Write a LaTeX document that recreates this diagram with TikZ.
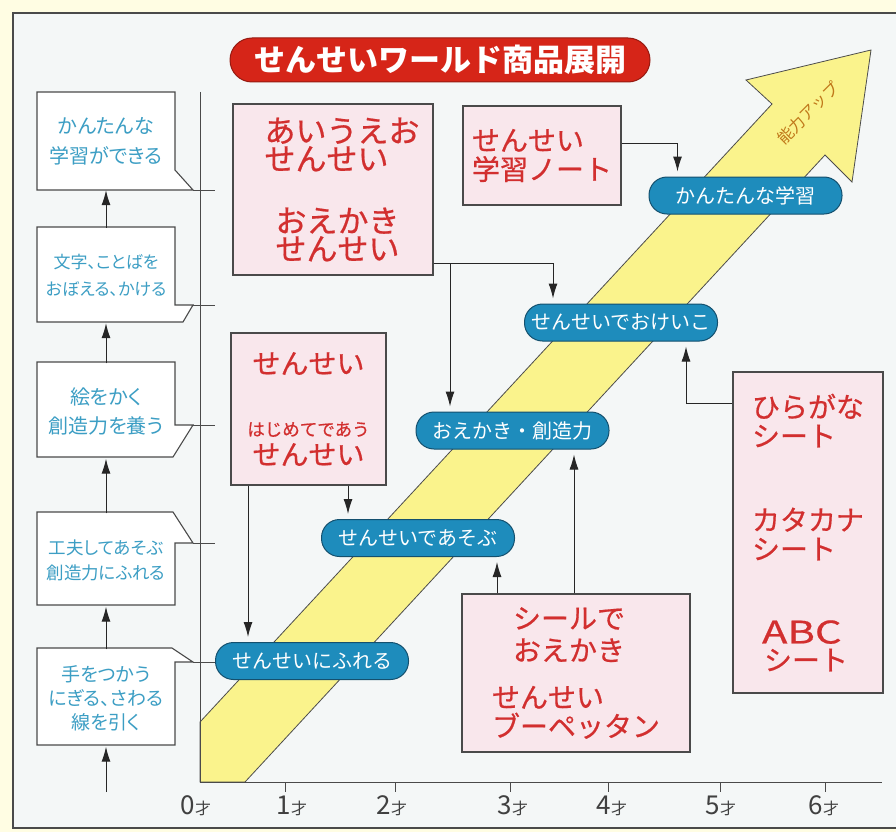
\documentclass[tikz,border=0pt]{standalone}
\usepackage{fontspec}
\setmainfont{Noto Sans CJK JP}
\newfontfamily\stagefont{Noto Sans CJK JP}[RawFeature=+palt]
\newfontfamily\prodfont{Noto Sans CJK JP}[FakeBold=0.6]
\usepackage{xcolor}
\usetikzlibrary{shapes,arrows.meta,positioning,calc}

\definecolor{bgyellow}{HTML}{FFFDE3}
\definecolor{panelfill}{HTML}{F4F7F7}
\definecolor{linegrey}{HTML}{4A4A4A}
\definecolor{stagetext}{HTML}{3C9EC4}
\definecolor{prodfill}{HTML}{F9E7EC}
\definecolor{prodtext}{HTML}{D22F2F}
\definecolor{pillfill}{HTML}{1E8CBC}
\definecolor{pilldraw}{HTML}{14506E}
\definecolor{bandyellow}{HTML}{FAF38C}
\definecolor{titlered}{HTML}{D62518}
\definecolor{labelbrown}{HTML}{C0781A}

\newcommand{\sai}{{\fontsize{16}{16}\selectfont 才}}

\begin{document}
\begin{tikzpicture}[x=1pt, y=-1pt,
    stage/.style={inner sep=0pt, minimum width=138pt, text=stagetext, align=center},
    stageline/.style={draw=linegrey, line width=1.1pt, fill=white},
    prod/.style={rectangle, draw=linegrey, line width=1.1pt, fill=prodfill, text=prodtext, inner sep=0pt, font=\prodfont\fontsize{28}{29}\selectfont},
    pill/.style={rectangle, rounded corners=18pt, draw=pilldraw, line width=1pt, fill=pillfill, text=white, minimum width=193pt, minimum height=37pt, inner sep=0pt, font=\fontsize{20}{20}\selectfont},
    titlepill/.style={rectangle, rounded corners=22pt, draw=titlered!70!black, line width=1pt, fill=titlered, text=white, minimum width=420pt, minimum height=44pt, inner sep=0pt, font=\fontsize{31}{31}\selectfont\bfseries},
    axis/.style={draw=linegrey, line width=1pt},
    band/.style={fill=bandyellow, draw=black!70, line width=0.8pt},
    conn/.style={-{Latex[length=15pt,width=9pt]}, line width=1pt, draw=black!85, shorten >=5pt},
    stageconn/.style={-{Latex[length=15pt,width=9pt]}, line width=1pt, draw=black!85},
    age/.style={text=black!75, inner sep=1pt, font=\fontsize{26}{26}\selectfont}
]
    \useasboundingbox (0,0) rectangle (896,832);
    \fill[bgyellow] (0,0) rectangle (896,832);
    \draw[draw=linegrey, line width=1.3pt, fill=panelfill] (13,13) rectangle (910,828);

    % growth band
    \draw[band] (200,722) -- (772,104) -- (746,80) -- (871,50) -- (852,182) -- (825,155) -- (245,782) -- (200,782) -- cycle;
    \node[rotate=45, text=labelbrown, inner sep=0pt, font=\fontsize{16}{16}\selectfont] (up) at (808,113) {能力アップ};

    % axes
    \draw[axis] (200,92) -- (200,782) -- (882,782);
    \draw[axis] (193,190) -- (215,190);
    \draw[axis] (193,305) -- (215,305);
    \draw[axis] (193,425) -- (215,425);
    \draw[axis] (193,543) -- (215,543);
    \draw[axis] (193,662) -- (215,662);
    \draw[axis] (285,782) -- (285,792);
    \draw[axis] (395,782) -- (395,792);
    \draw[axis] (510,782) -- (510,792);
    \draw[axis] (608,782) -- (608,792);
    \draw[axis] (720,782) -- (720,792);
    \draw[axis] (825,782) -- (825,792);
    \node[age] (a0) at (196,806) {0\sai};
    \node[age] (a1) at (292,806) {1\sai};
    \node[age] (a2) at (392,806) {2\sai};
    \node[age] (a3) at (513,806) {3\sai};
    \node[age] (a4) at (612,806) {4\sai};
    \node[age] (a5) at (721,806) {5\sai};
    \node[age] (a6) at (824,806) {6\sai};

    % stages on the left
    \draw[stageline] (37,92) -- (175,92) -- (175,170) -- (193,190) -- (37,190) -- cycle;
    \draw[stageline] (37,227) -- (175,227) -- (175,305) -- (193,305) -- (183,322) -- (37,322) -- cycle;
    \draw[stageline] (37,362) -- (175,362) -- (175,425) -- (193,425) -- (173,457) -- (37,457) -- cycle;
    \draw[stageline] (37,512) -- (173,512) -- (193,543) -- (175,543) -- (175,605) -- (37,605) -- cycle;
    \draw[stageline] (37,648) -- (172,648) -- (193,662) -- (175,662) -- (175,745) -- (37,745) -- cycle;
    \node[stage, minimum height=98pt, font=\stagefont\fontsize{20}{30}\selectfont] (s1) at (106,141) {かんたんな\\学習ができる};
    \node[stage, minimum height=95pt, font=\stagefont\fontsize{17}{27}\selectfont] (s2) at (106,275.5) {文字、ことばを\\おぼえる、かける};
    \node[stage, minimum height=95pt, font=\stagefont\fontsize{20}{29}\selectfont] (s3) at (106,411) {絵をかく\\創造力を養う};
    \node[stage, minimum height=93pt, font=\stagefont\fontsize{17.5}{25}\selectfont] (s4) at (106,560) {工夫してあそぶ\\創造力にふれる};
    \node[stage, minimum height=97pt, font=\stagefont\fontsize{19}{24}\selectfont] (s5) at (106,698) {手をつかう\\にぎる、さわる\\線を引く};
    \coordinate (start) at (106,792);
    \draw[stageconn] (start) -- (s5.south);
    \draw[stageconn] (s5.north) -- (s4.south);
    \draw[stageconn] (s4.north) -- (s3.south);
    \draw[stageconn] (s3.north) -- (s2.south);
    \draw[stageconn] (s2.north) -- (s1.south);

    \node[titlepill] (title) at (440,60) {せんせいワールド商品展開};

    % products
    \node[prod, minimum width=200pt, minimum height=171pt, align=left, font=\prodfont\fontsize{31}{28}\selectfont] (p1) at (333,189.5) {\hspace*{18pt}あいうえお\\\hspace*{18pt}せんせい\\[34pt]\hspace*{29pt}おえかき\\\hspace*{29pt}せんせい};
    \node[prod, minimum width=158pt, minimum height=99pt, align=left] (p2) at (542,155.5) {せんせい\\学習ノート};
    \node[prod, minimum width=155pt, minimum height=152pt, align=center] (p3) at (308.5,409) {せんせい\\[33pt]{\fontsize{17.5}{18}\selectfont はじめてであう}\\せんせい};
    \node[prod, minimum width=228pt, minimum height=158pt, align=left] (p4) at (576,673) {\hspace*{21pt}シールで\\[3pt]\hspace*{21pt}おえかき\\[18pt]せんせい\\ブーペッタン};
    \node[prod, minimum width=150pt, minimum height=321pt, align=left] (p5) at (808,532.5) {ひらがな\\シート\\[55pt]カタカナ\\シート\\[55pt]\hspace*{10pt}{\fontsize{31}{31}\selectfont\addfontfeature{FakeStretch=1.35}ABC}\\[-2pt]\hspace*{12pt}シート};

    % steps on the band
    \node[pill] (b1) at (745.5,195.5) {かんたんな学習};
    \node[pill] (b2) at (621,322.5) {せんせいでおけいこ};
    \node[pill] (b3) at (512.5,430.5) {おえかき・創造力};
    \node[pill] (b4) at (418,538) {せんせいであそぶ};
    \node[pill] (b5) at (312,661) {せんせいにふれる};

    \draw[conn] ([yshift=12pt]p2.east) -| ([xshift=-68pt]b1.north);
    \draw[conn] ([yshift=-73.5pt]p1.east) -| ([xshift=-68pt]b2.north);
    \draw[conn] ([yshift=-73.5pt]p1.east) -| ([xshift=-62.5pt]b3.north);
    \draw[conn] ([xshift=39.5pt]p3.south) -- ([xshift=-70pt]b4.north);
    \draw[conn] ([xshift=-60.5pt]p3.south) -- ([xshift=-64pt]b5.north);
    \draw[conn] ([xshift=-79pt]p4.north) -- ([xshift=79pt]b4.south);
    \draw[conn] ([xshift=-2pt]p4.north) -- ([xshift=61.5pt]b3.south);
    \draw[conn] ([yshift=129.5pt]p5.west) -| ([xshift=65pt]b2.south);
\end{tikzpicture}
\end{document}
